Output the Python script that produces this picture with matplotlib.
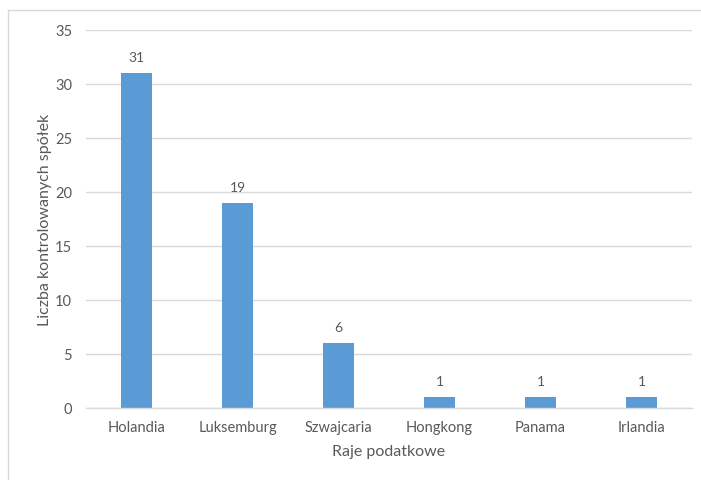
import matplotlib
matplotlib.use("Agg")
import matplotlib.pyplot as plt
from matplotlib.patches import Rectangle

categories = ["Holandia", "Luksemburg", "Szwajcaria", "Hongkong", "Panama", "Irlandia"]
values = [31, 19, 6, 1, 1, 1]
yticks = [0, 5, 10, 15, 20, 25, 30, 35]

plt.rcParams['font.family'] = ['Lato', 'DejaVu Sans']
txt = '#595959'

fig = plt.figure(figsize=(7.01, 4.81), dpi=100)
W, H = 701, 481
ax = fig.add_axes([86 / W, 1 - 409 / H, (692 - 86) / W, (409 - 31) / H])

x = list(range(len(categories)))
bars = ax.bar(x, values, width=0.313, color='#5B9BD5', zorder=3)
for xi, v in zip(x, values):
    ax.annotate(str(v), (xi, v), xytext=(0, 7), textcoords='offset points',
                ha='center', va='bottom', fontsize=10, color=txt)

ax.set_xlim(-0.5, len(categories) - 0.5)
ax.set_ylim(0, 35)
ax.set_yticks(yticks)
ax.set_xticks(x)
ax.set_xticklabels(categories)
ax.tick_params(axis='both', length=0, labelsize=10.5, labelcolor=txt)
ax.tick_params(axis='y', pad=10)
ax.tick_params(axis='x', pad=9)
ax.grid(axis='y', color='#D9D9D9', linewidth=1, zorder=0)
for s in ['top', 'right', 'left']:
    ax.spines[s].set_visible(False)
ax.spines['bottom'].set_color('#D9D9D9')
ax.spines['bottom'].set_linewidth(1)
ax.spines['bottom'].set_zorder(4)

ax.set_xlabel("Raje podatkowe", fontsize=11.5, color=txt, labelpad=7)
ax.set_ylabel("Liczba kontrolowanych spółek", fontsize=11.5, color=txt, labelpad=2)

fig.patches.append(Rectangle((8 / W, -0.1), 1.2, 1 - 11 / H + 0.1,
                             transform=fig.transFigure, fill=False,
                             edgecolor='#D9D9D9', linewidth=1))

fig.savefig("out.png", dpi=100)
